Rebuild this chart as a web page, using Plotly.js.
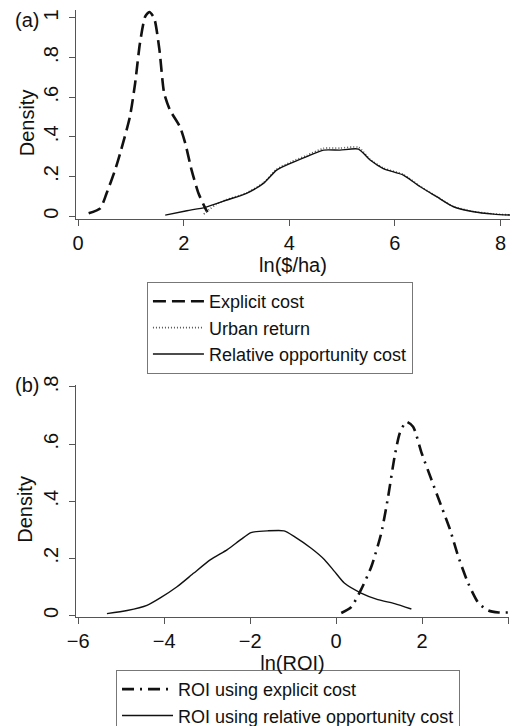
<!DOCTYPE html>
<html>
<head>
<meta charset="utf-8">
<script src="https://cdn.plot.ly/plotly-3.0.1.min.js"></script>
<style>html,body{margin:0;padding:0;background:#fff;}#chart{width:512px;height:726px;}</style>
</head>
<body>
<div id="chart"></div>
<script>
// Panel (a): ln($/ha)
const explicitX = [0.20, 0.42, 0.54, 0.70, 0.80, 0.98, 1.08, 1.17, 1.27, 1.35, 1.44, 1.54, 1.63, 1.74, 1.93, 2.03, 2.15, 2.28, 2.41, 2.45];
const explicitY = [0.014, 0.039, 0.115, 0.232, 0.32, 0.50, 0.67, 0.87, 1.007, 1.03, 1.0, 0.84, 0.62, 0.535, 0.45, 0.367, 0.232, 0.115, 0.039, 0.02];

const urbanX = [2.38, 2.47, 2.62, 2.82, 3.19, 3.51, 3.76, 4.02, 4.33, 4.65, 4.96, 5.31, 5.53, 5.78, 6.16, 6.48, 6.79, 7.11, 7.49, 7.87, 8.18];
const urbanY = [0.010, 0.030, 0.060, 0.084, 0.117, 0.168, 0.236, 0.272, 0.306, 0.342, 0.343, 0.347, 0.286, 0.243, 0.210, 0.150, 0.099, 0.048, 0.023, 0.011, 0.006];

const relOppX = [1.65, 2.06, 2.41, 2.82, 3.19, 3.51, 3.76, 4.02, 4.33, 4.65, 4.96, 5.31, 5.53, 5.78, 6.16, 6.48, 6.79, 7.11, 7.49, 7.87, 8.18];
const relOppY = [0.005, 0.027, 0.044, 0.081, 0.115, 0.165, 0.232, 0.266, 0.30, 0.333, 0.333, 0.338, 0.283, 0.24, 0.207, 0.148, 0.098, 0.047, 0.022, 0.010, 0.005];

// Panel (b): ln(ROI)
const roiExplicitX = [0.12, 0.35, 0.58, 0.82, 1.05, 1.21, 1.36, 1.48, 1.63, 1.79, 1.99, 2.22, 2.45, 2.65, 2.84, 3.07, 3.31, 3.54, 3.78, 4.05];
const roiExplicitY = [0.008, 0.029, 0.09, 0.171, 0.288, 0.416, 0.556, 0.638, 0.678, 0.661, 0.568, 0.474, 0.381, 0.30, 0.206, 0.113, 0.043, 0.017, 0.010, 0.010];

const roiRelX = [-5.33, -4.86, -4.40, -4.09, -3.70, -3.31, -2.92, -2.53, -2.22, -1.98, -1.59, -1.21, -0.97, -0.58, -0.27, -0.04, 0.19, 0.58, 0.97, 1.36, 1.75];
const roiRelY = [0.006, 0.017, 0.035, 0.061, 0.10, 0.148, 0.195, 0.23, 0.265, 0.29, 0.296, 0.296, 0.276, 0.235, 0.195, 0.154, 0.113, 0.078, 0.055, 0.041, 0.022];

const xTicksA = [0, 2, 4, 6, 8];
const xTickTextA = ["0", "2", "4", "6", "8"];
const yTicksA = [0, 0.2, 0.4, 0.6, 0.8, 1];
const yTickTextA = ["0", ".2", ".4", ".6", ".8", "1"];
const xTicksB = [-6, -4, -2, 0, 2, 4];
const xTickTextB = ["\u22126", "\u22124", "\u22122", "0", "2", "4"];
const yTicksB = [0, 0.2, 0.4, 0.6, 0.8];
const yTickTextB = ["0", ".2", ".4", ".6", ".8"];

const FONT = "Liberation Sans, Arial, sans-serif";

const traces = [
  {x: explicitX, y: explicitY, name: "Explicit cost", type: "scatter", mode: "lines",
   line: {color: "#111", width: 2.6, dash: "13px,6px", shape: "spline", smoothing: 0.6},
   xaxis: "x", yaxis: "y", legend: "legend"},
  {x: urbanX, y: urbanY, name: "Urban return", type: "scatter", mode: "lines",
   line: {color: "#555", width: 1.6, dash: "1px,2px", shape: "spline", smoothing: 0.6},
   xaxis: "x", yaxis: "y", legend: "legend"},
  {x: relOppX, y: relOppY, name: "Relative opportunity cost", type: "scatter", mode: "lines",
   line: {color: "#111", width: 1.4, shape: "spline", smoothing: 0.6},
   xaxis: "x", yaxis: "y", legend: "legend"},
  {x: roiExplicitX, y: roiExplicitY, name: "ROI using explicit cost", type: "scatter", mode: "lines",
   line: {color: "#111", width: 2.6, dash: "12px,6px,2px,6px", shape: "spline", smoothing: 0.6},
   xaxis: "x2", yaxis: "y2", legend: "legend2"},
  {x: roiRelX, y: roiRelY, name: "ROI using relative opportunity cost", type: "scatter", mode: "lines",
   line: {color: "#111", width: 1.4, shape: "spline", smoothing: 0.6},
   xaxis: "x2", yaxis: "y2", legend: "legend2"}
];

const axisCommon = {
  showline: true, linecolor: "#555", linewidth: 1, showgrid: false, zeroline: false,
  ticks: "outside", ticklen: 6, tickcolor: "#555", tickfont: {family: FONT, size: 20, color: "#111"},
  mirror: false, fixedrange: true, automargin: false
};

const layout = {
  width: 512, height: 726,
  margin: {l: 0, r: 0, t: 0, b: 0, autoexpand: false},
  paper_bgcolor: "#fff", plot_bgcolor: "#fff",
  font: {family: FONT, color: "#111"},
  showlegend: true,
  xaxis: Object.assign({}, axisCommon, {
    domain: [0.1484, 0.9961], range: [-0.04, 8.18], anchor: "y",
    tickmode: "array", tickvals: xTicksA, ticktext: xTickTextA, ticklabelstandoff: 0,
    title: {text: "ln($/ha)", font: {family: FONT, size: 20, color: "#111"}, standoff: 0}
  }),
  yaxis: Object.assign({}, axisCommon, {
    domain: [0.6983, 0.9862], range: [-0.015, 1.04], anchor: "x",
    tickmode: "array", tickvals: yTicksA, ticktext: yTickTextA, tickangle: -90, ticklabelstandoff: 3
  }),
  xaxis2: Object.assign({}, axisCommon, {
    domain: [0.1484, 0.9941], range: [-6.05, 4.02], anchor: "y2",
    tickmode: "array", tickvals: xTicksB, ticktext: xTickTextB, ticklabelstandoff: 0,
    title: {text: "ln(ROI)", font: {family: FONT, size: 20, color: "#111"}, standoff: 0}
  }),
  yaxis2: Object.assign({}, axisCommon, {
    domain: [0.1501, 0.4697], range: [-0.006, 0.807], anchor: "x2",
    tickmode: "array", tickvals: yTicksB, ticktext: yTickTextB, tickangle: -90, ticklabelstandoff: 3
  }),
  legend: {
    x: 0.287, y: 0.6116, xanchor: "left", yanchor: "top",
    bordercolor: "#777", borderwidth: 1, bgcolor: "#fff",
    font: {family: FONT, size: 18, color: "#111"}, itemwidth: 51, tracegroupgap: 0
  },
  legend2: {
    x: 0.2266, y: 0.0772, xanchor: "left", yanchor: "top",
    bordercolor: "#777", borderwidth: 1, bgcolor: "#fff",
    font: {family: FONT, size: 18, color: "#111"}, itemwidth: 51, tracegroupgap: 0
  },
  annotations: [
    {text: "(a)", xref: "paper", yref: "paper", x: 0.026, y: 0.9725, xanchor: "left", yanchor: "middle",
     showarrow: false, font: {family: FONT, size: 20, color: "#111"}},
    {text: "(b)", xref: "paper", yref: "paper", x: 0.026, y: 0.4697, xanchor: "left", yanchor: "middle",
     showarrow: false, font: {family: FONT, size: 20, color: "#111"}},
    {text: "Density", xref: "paper", yref: "paper", x: 0.0527, y: 0.8315, xanchor: "center", yanchor: "middle",
     textangle: -90, showarrow: false, font: {family: FONT, size: 20, color: "#111"}},
    {text: "Density", xref: "paper", yref: "paper", x: 0.049, y: 0.2979, xanchor: "center", yanchor: "middle",
     textangle: -90, showarrow: false, font: {family: FONT, size: 20, color: "#111"}}
  ]
};

Plotly.newPlot("chart", traces, layout, {displayModeBar: false, staticPlot: true});
</script>
</body>
</html>
